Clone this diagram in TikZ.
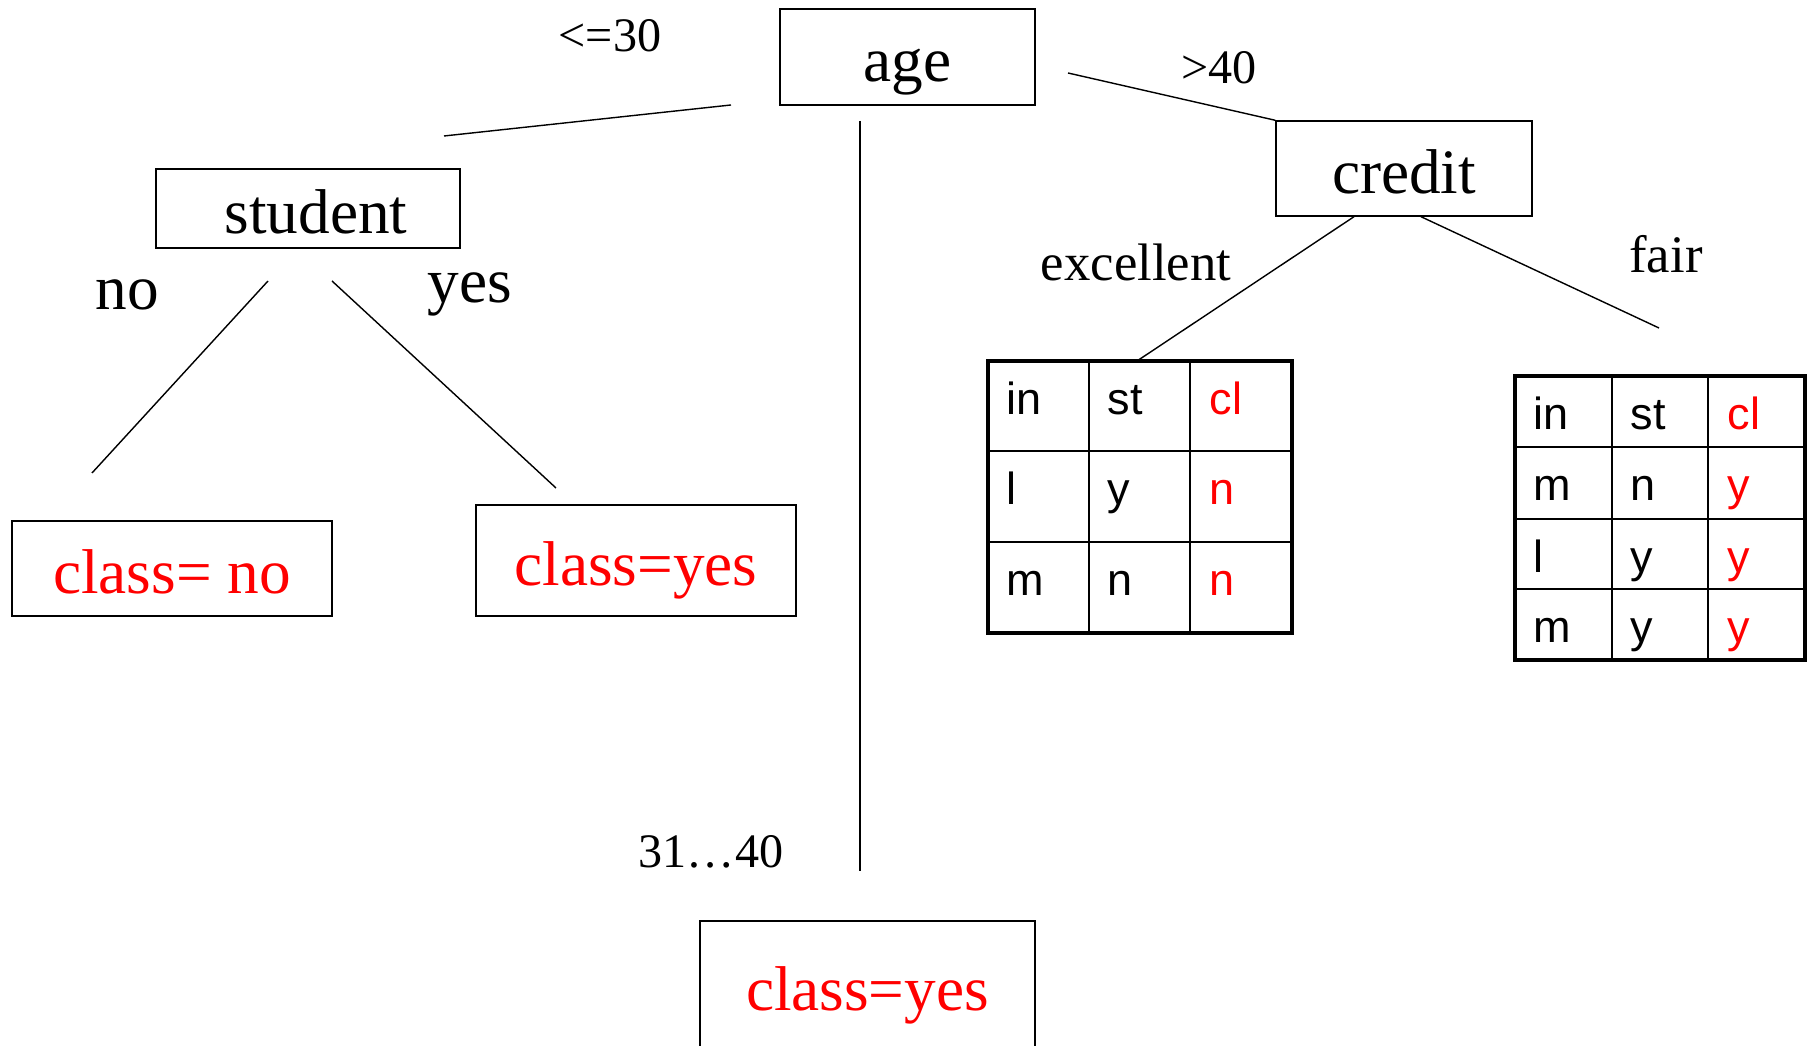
\documentclass[tikz,border=0pt]{standalone}
\usepackage{fontspec}
\setmainfont{Liberation Serif}
\newfontfamily\cellfont{Liberation Sans}

\begin{document}
\begin{tikzpicture}[x=1cm,y=-1cm]

      \useasboundingbox (0,0) rectangle (18.12,10.46);

      % tree boxes
      \begin{scope}[every node/.style={draw,line width=.4pt,inner sep=0pt,text height=.5cm,text depth=0pt,font=\fontsize{18}{20}\selectfont}]
        \node[minimum width=2.55cm,minimum height=.96cm] (age)     at (9.075,.57)  {age};
        \node[minimum width=3.04cm,minimum height=.79cm] (student) at (3.08,2.085) {\hspace{.16cm}student};
        \node[minimum width=2.56cm,minimum height=.95cm] (credit)  at (14.04,1.685) {credit};
        \node[text=red,minimum width=3.2cm,minimum height=.95cm]   (clno)  at (1.72,5.685) {class= no};
        \node[text=red,minimum width=3.2cm,minimum height=1.11cm]  (clyes) at (6.36,5.605) {class=yes};
        \node[text=red,minimum width=3.35cm,minimum height=1.3cm]  (clmid) at (8.675,9.86) {class=yes};
      \end{scope}

      % branch labels
      \begin{scope}[every node/.style={anchor=base,inner sep=0pt}]
        \node[font=\fontsize{13.7}{15}\selectfont] (le30) at (6.10,.52) {<=30};
        \node[font=\fontsize{13.7}{15}\selectfont] (gt40) at (12.19,.84) {>40};
        \node[font=\fontsize{13.7}{15}\selectfont] (mid)  at (7.11,8.68) {31…40};
        \node[font=\fontsize{18}{20}\selectfont]   (no)   at (1.27,3.10) {no};
        \node[font=\fontsize{18}{20}\selectfont]   (yes)  at (4.70,3.03) {yes};
        \node[font=\fontsize{15}{17}\selectfont]   (exc)  at (11.36,2.81) {excellent};
        \node[font=\fontsize{15}{17}\selectfont]   (fair) at (16.66,2.73) {fair};
      \end{scope}

      % free ends of the branches
      \coordinate (a1) at (7.31,1.05);
      \coordinate (s1) at (4.44,1.36);
      \coordinate (a2) at (8.60,1.21);
      \coordinate (m1) at (8.60,8.71);
      \coordinate (a3) at (10.68,.73);
      \coordinate (s2) at (2.68,2.81);
      \coordinate (n1) at (.92,4.73);
      \coordinate (s3) at (3.32,2.81);
      \coordinate (y1) at (5.56,4.88);
      \coordinate (te) at (11.37,3.61);
      \coordinate (tf) at (16.59,3.28);

      \begin{scope}[line width=.4pt]
        \draw (a1) -- (s1);
        \draw (a2) -- (m1);
        \draw (a3) -- (credit.north west);
        \draw (s2) -- (n1);
        \draw (s3) -- (y1);
        \draw ([xshift=-.5cm]credit.south) -- (te);
        \draw ([xshift=.17cm]credit.south) -- (tf);
      \end{scope}

      % excellent table
      \draw[line width=.5pt] (10.89,3.61) -- (10.89,6.33) (11.90,3.61) -- (11.90,6.33)
                             (9.88,4.51) -- (12.92,4.51) (9.88,5.42) -- (12.92,5.42);
      \draw[line width=1.4pt] (9.88,3.61) rectangle (12.92,6.33);

      % fair table
      \draw[line width=.5pt] (16.12,3.76) -- (16.12,6.60) (17.08,3.76) -- (17.08,6.60)
                             (15.15,4.47) -- (18.05,4.47) (15.15,5.19) -- (18.05,5.19)
                             (15.15,5.89) -- (18.05,5.89);
      \draw[line width=1.4pt] (15.15,3.76) rectangle (18.05,6.60);

      \begin{scope}[every node/.style={anchor=base west,inner sep=0pt,font=\cellfont\fontsize{12.8}{14}\selectfont}]
        \node (e11) at (10.06,4.15) {in};
        \node (e12) at (11.07,4.15) {st};
        \node[text=red] (e13) at (12.09,4.15) {cl};
        \node (e21) at (10.06,5.05) {l};
        \node (e22) at (11.07,5.05) {y};
        \node[text=red] (e23) at (12.09,5.05) {n};
        \node (e31) at (10.06,5.96) {m};
        \node (e32) at (11.07,5.96) {n};
        \node[text=red] (e33) at (12.09,5.96) {n};

        \node (f11) at (15.33,4.30) {in};
        \node (f12) at (16.30,4.30) {st};
        \node[text=red] (f13) at (17.27,4.30) {cl};
        \node (f21) at (15.33,5.01) {m};
        \node (f22) at (16.30,5.01) {n};
        \node[text=red] (f23) at (17.27,5.01) {y};
        \node (f31) at (15.33,5.73) {l};
        \node (f32) at (16.30,5.73) {y};
        \node[text=red] (f33) at (17.27,5.73) {y};
        \node (f41) at (15.33,6.43) {m};
        \node (f42) at (16.30,6.43) {y};
        \node[text=red] (f43) at (17.27,6.43) {y};
      \end{scope}

\end{tikzpicture}
\end{document}
